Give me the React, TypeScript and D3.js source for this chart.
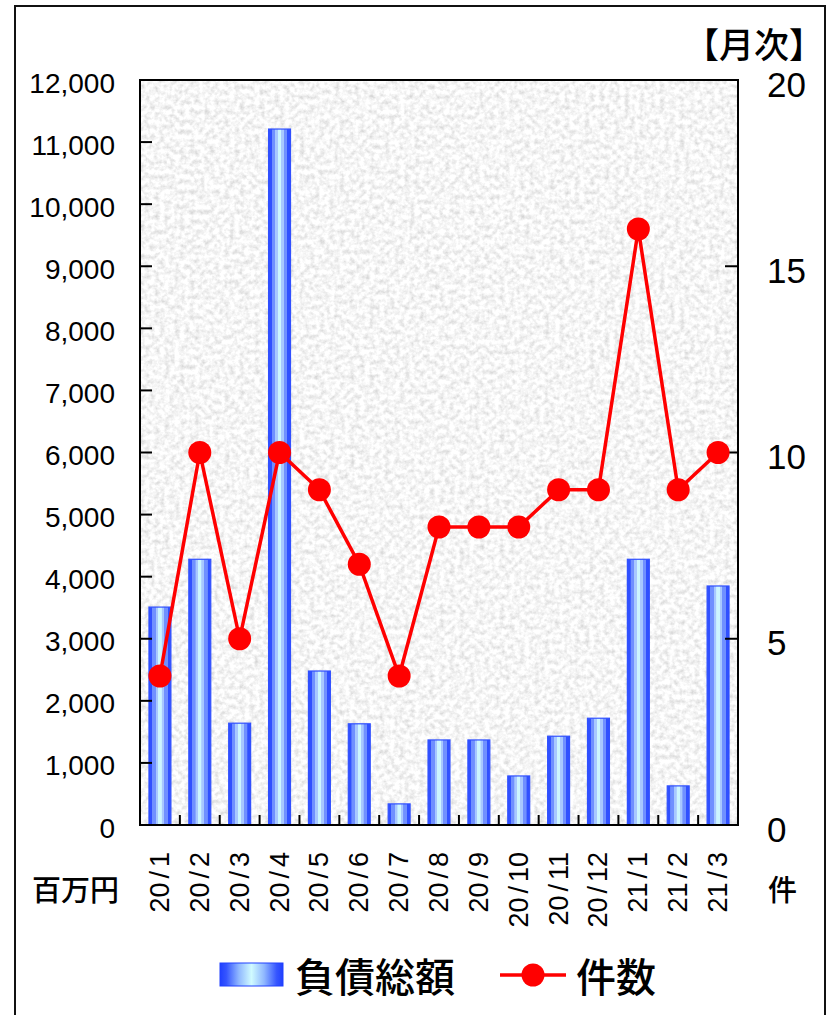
import { useEffect, useRef } from 'react';
import * as d3 from 'd3';

// 月次データ
const MONTHS = ['20/1', '20/2', '20/3', '20/4', '20/5', '20/6', '20/7', '20/8', '20/9', '20/10', '20/11', '20/12', '21/1', '21/2', '21/3'];
const DEBT = [3510, 4280, 1640, 11210, 2480, 1630, 340, 1370, 1370, 790, 1430, 1720, 4280, 630, 3850];
const COUNTS = [4, 10, 5, 10, 9, 7, 4, 8, 8, 8, 9, 9, 16, 9, 10];
const LEFT_TICKS = [0, 1000, 2000, 3000, 4000, 5000, 6000, 7000, 8000, 9000, 10000, 11000, 12000];
const RIGHT_TICKS = [0, 5, 10, 15, 20];

const NUM_FONT = '"Liberation Sans", Arial, sans-serif';
const JP_FONT = '"Noto Sans CJK JP", "Liberation Sans", sans-serif';

export default function App() {
  const svgRef = useRef<SVGSVGElement>(null);

  useEffect(() => {
    if (!svgRef.current) return;
    const width = 830;
    const height = 1015;
    const plot = { left: 140, right: 738, top: 80, bottom: 825 };

    const svg = d3.select(svgRef.current);
    svg.selectAll('*').remove();
    svg.attr('viewBox', `0 0 ${width} ${height}`);

    const x = d3.scaleBand().domain(MONTHS).range([plot.left, plot.right]).paddingInner(0.45).paddingOuter(0.225);
    const xBand = d3.scaleBand().domain(MONTHS).range([plot.left, plot.right]);
    const yL = d3.scaleLinear().domain([0, 12000]).range([plot.bottom, plot.top]);
    const yR = d3.scaleLinear().domain([0, 20]).range([plot.bottom, plot.top]);

    const defs = svg.append('defs');

    // granite-like background
    const filter = defs.append('filter').attr('id', 'granite')
      .attr('x', 0).attr('y', 0).attr('width', 1).attr('height', 1);
    filter.append('feTurbulence')
      .attr('type', 'fractalNoise').attr('baseFrequency', 0.2)
      .attr('numOctaves', 3).attr('seed', 11).attr('result', 'noise');
    filter.append('feColorMatrix').attr('in', 'noise').attr('type', 'matrix')
      .attr('values', '0.6 0 0 0 0.62  0.6 0 0 0 0.62  0.6 0 0 0 0.62  0 0 0 0 1');

    // bar gradient
    const barGrad = defs.append('linearGradient').attr('id', 'barGrad')
      .attr('x1', '0%').attr('x2', '100%').attr('y1', '0%').attr('y2', '0%');
    [
      [0, '#3050ff'], [14, '#3050ff'], [15, '#7090ff'], [30, '#7090ff'], [31, '#a8c8ff'],
      [42, '#a8c8ff'], [43, '#cdf6ff'], [57, '#cdf6ff'], [58, '#a8c8ff'], [69, '#a8c8ff'],
      [70, '#7090ff'], [85, '#7090ff'], [86, '#3050ff'], [100, '#3050ff'],
    ].forEach(([o, c]) => barGrad.append('stop').attr('offset', `${o}%`).attr('stop-color', c as string));

    const legGrad = defs.append('linearGradient').attr('id', 'legGrad')
      .attr('x1', '0%').attr('x2', '100%').attr('y1', '0%').attr('y2', '0%');
    [[0, '#2040ff'], [10, '#3555ff'], [30, '#90b8ff'], [50, '#d0fbff'], [70, '#90b8ff'], [90, '#3555ff'], [100, '#2040ff']]
      .forEach(([o, c]) => legGrad.append('stop').attr('offset', `${o}%`).attr('stop-color', c as string));

    // outer frame
    svg.append('path')
      .attr('d', `M15,${height + 5} L15,6 L825,6 L825,${height + 5}`)
      .attr('fill', 'none').attr('stroke', '#111').attr('stroke-width', 2);

    // plot background
    svg.append('rect')
      .attr('x', plot.left).attr('y', plot.top)
      .attr('width', plot.right - plot.left).attr('height', plot.bottom - plot.top)
      .attr('fill', '#e8e8e8').attr('filter', 'url(#granite)');

    // bars
    svg.append('g').selectAll('rect').data(MONTHS).join('rect')
      .attr('x', (d) => x(d)!)
      .attr('width', x.bandwidth())
      .attr('y', (_, i) => yL(DEBT[i]))
      .attr('height', (_, i) => plot.bottom - yL(DEBT[i]))
      .attr('fill', 'url(#barGrad)')
      .attr('stroke', '#3050ff').attr('stroke-width', 1.2);

    // plot border
    svg.append('rect')
      .attr('x', plot.left).attr('y', plot.top)
      .attr('width', plot.right - plot.left).attr('height', plot.bottom - plot.top)
      .attr('fill', 'none').attr('stroke', '#000').attr('stroke-width', 2);

    // left axis ticks + labels
    LEFT_TICKS.forEach((t) => {
      svg.append('line')
        .attr('x1', plot.left).attr('x2', plot.left + 12)
        .attr('y1', yL(t)).attr('y2', yL(t))
        .attr('stroke', '#000').attr('stroke-width', 2);
      svg.append('text')
        .attr('x', 115).attr('y', yL(t) + 3)
        .attr('text-anchor', 'end').attr('dominant-baseline', 'central')
        .attr('font-family', NUM_FONT).attr('font-size', 28).attr('fill', '#000')
        .text(d3.format(',')(t));
    });

    // right axis ticks + labels
    RIGHT_TICKS.forEach((t) => {
      svg.append('line')
        .attr('x1', plot.right - 13).attr('x2', plot.right)
        .attr('y1', yR(t)).attr('y2', yR(t))
        .attr('stroke', '#000').attr('stroke-width', 2);
      svg.append('text')
        .attr('x', 767).attr('y', yR(t) + 4)
        .attr('text-anchor', 'start').attr('dominant-baseline', 'central')
        .attr('font-family', NUM_FONT).attr('font-size', 35).attr('fill', '#000')
        .text(t);
    });

    // category ticks
    MONTHS.slice(1).forEach((m) => {
      svg.append('line')
        .attr('x1', xBand(m)!).attr('x2', xBand(m)!)
        .attr('y1', plot.bottom - 10).attr('y2', plot.bottom)
        .attr('stroke', '#000').attr('stroke-width', 2);
    });

    // category labels (rotated)
    MONTHS.forEach((m) => {
      const cx = xBand(m)! + xBand.bandwidth() / 2;
      const [a, b] = m.split('/');
      const t = svg.append('text')
        .attr('transform', `translate(${cx},852) rotate(-90)`)
        .attr('text-anchor', 'end').attr('dominant-baseline', 'central')
        .attr('font-family', NUM_FONT).attr('font-size', 27).attr('fill', '#000');
      t.append('tspan').text(a);
      t.append('tspan').attr('dx', 4).text('/');
      t.append('tspan').attr('dx', 4).text(b);
    });

    // count line
    const line = d3.line<number>()
      .x((_, i) => xBand(MONTHS[i])! + xBand.bandwidth() / 2)
      .y((d) => yR(d));
    svg.append('path')
      .datum(COUNTS)
      .attr('d', line)
      .attr('fill', 'none').attr('stroke', '#ff0000').attr('stroke-width', 3.5);
    svg.append('g').selectAll('circle').data(COUNTS).join('circle')
      .attr('cx', (_, i) => xBand(MONTHS[i])! + xBand.bandwidth() / 2)
      .attr('cy', (d) => yR(d))
      .attr('r', 11.5).attr('fill', '#ff0000');

    // unit labels
    svg.append('text').attr('x', 32).attr('y', 888)
      .attr('dominant-baseline', 'central')
      .attr('font-family', JP_FONT).attr('font-size', 29).attr('font-weight', 500).attr('fill', '#000').text('百万円');
    svg.append('text').attr('x', 768).attr('y', 888)
      .attr('dominant-baseline', 'central')
      .attr('font-family', JP_FONT).attr('font-size', 29).attr('font-weight', 500).attr('fill', '#000').text('件');
    svg.append('text').attr('x', 824).attr('y', 42)
      .attr('text-anchor', 'end').attr('dominant-baseline', 'central')
      .attr('font-family', JP_FONT).attr('font-size', 35).attr('font-weight', 500).attr('fill', '#000').text('【月次】');

    // legend
    const lg = svg.append('g');
    lg.append('rect').attr('x', 220).attr('y', 963).attr('width', 63).attr('height', 23)
      .attr('fill', 'url(#legGrad)').attr('stroke', '#2040ff').attr('stroke-width', 1);
    lg.append('text').attr('x', 295).attr('y', 975)
      .attr('dominant-baseline', 'central')
      .attr('font-family', JP_FONT).attr('font-size', 40).attr('font-weight', 500).attr('fill', '#000').text('負債総額');
    lg.append('line').attr('x1', 500).attr('x2', 566).attr('y1', 975).attr('y2', 975)
      .attr('stroke', '#ff0000').attr('stroke-width', 3.5);
    lg.append('circle').attr('cx', 533).attr('cy', 975).attr('r', 11.5).attr('fill', '#ff0000');
    lg.append('text').attr('x', 576).attr('y', 975)
      .attr('dominant-baseline', 'central')
      .attr('font-family', JP_FONT).attr('font-size', 40).attr('font-weight', 500).attr('fill', '#000').text('件数');
  }, []);

  return (
    <svg
      ref={svgRef}
      width={830}
      height={1015}
      style={{ position: 'absolute', left: 0, top: 0, display: 'block', background: '#fff' }}
    />
  );
}
